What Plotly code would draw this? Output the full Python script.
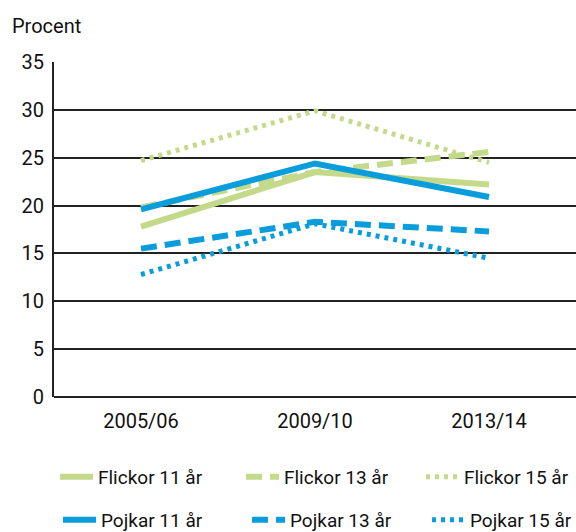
import plotly.graph_objects as go

years = ["2005/06", "2009/10", "2013/14"]
flickor_11 = [17.8, 23.5, 22.2]
flickor_13 = [19.8, 23.5, 25.6]
flickor_15 = [24.7, 29.9, 24.5]
pojkar_11 = [19.6, 24.4, 20.9]
pojkar_13 = [15.5, 18.3, 17.3]
pojkar_15 = [12.8, 18.1, 14.5]
y_ticks = [0, 5, 10, 15, 20, 25, 30, 35]

GREEN = "#c5d98b"
BLUE = "#0a9ddc"
FONT = "Roboto"

# name, values, colour, dash, width, legend id
series = [
    ("Flickor 11 år", flickor_11, GREEN, "solid", 6, "legend"),
    ("Flickor 13 år", flickor_13, GREEN, "16px,8px", 6, "legend2"),
    ("Flickor 15 år", flickor_15, GREEN, "4px,5px", 5, "legend3"),
    ("Pojkar 11 år", pojkar_11, BLUE, "solid", 6, "legend4"),
    ("Pojkar 13 år", pojkar_13, BLUE, "16px,8px", 6, "legend5"),
    ("Pojkar 15 år", pojkar_15, BLUE, "4px,5px", 5, "legend6"),
]

fig = go.Figure()
for name, vals, col, dash, w, lg in series:
    fig.add_trace(go.Scatter(
        x=years, y=vals, name=name, mode="lines",
        line=dict(color=col, width=w, dash=dash),
        legend=lg,
    ))

L, T, PW, PH = 54, 62, 522, 335


def leg(px, py):
    return dict(
        x=(px - L) / PW, y=(T + PH - py) / PH,
        xanchor="left", yanchor="middle", orientation="h",
        font=dict(family=FONT, size=19, color="#111"),
        bgcolor="rgba(0,0,0,0)", itemwidth=33,
    )


fig.update_layout(
    width=576, height=532,
    margin=dict(l=L, r=0, t=T, b=532 - T - PH, autoexpand=False),
    plot_bgcolor="white", paper_bgcolor="white",
    font=dict(family=FONT, size=20, color="#111"),
    showlegend=True,
    legend=leg(55, 477),
    legend2=leg(241, 477),
    legend3=leg(421, 477),
    legend4=leg(58, 520),
    legend5=leg(247, 520),
    legend6=leg(427, 520),
    xaxis=dict(
        type="category", range=[-0.5, 2.5], showgrid=False, showline=False,
        ticks="", tickfont=dict(size=20), fixedrange=True, automargin=False,
        ticklabelstandoff=10,
    ),
    yaxis=dict(
        range=[0, 35], tickvals=y_ticks, showgrid=True,
        gridcolor="#222", gridwidth=1.5,
        showline=True, linecolor="#222", linewidth=2,
        zeroline=True, zerolinecolor="#222", zerolinewidth=2,
        ticks="", ticklabelstandoff=4, tickfont=dict(size=20),
        automargin=False, fixedrange=True,
    ),
    annotations=[dict(
        text="Procent", xref="paper", yref="paper", x=-0.085, y=1.0,
        xanchor="left", yanchor="bottom", yshift=22, showarrow=False,
        font=dict(family=FONT, size=20, color="#111"),
    )],
)

fig.write_html(
    "out.html",
    config={"displayModeBar": False},
    post_script="document.body.style.margin='0';document.body.style.overflow='hidden';",
)
